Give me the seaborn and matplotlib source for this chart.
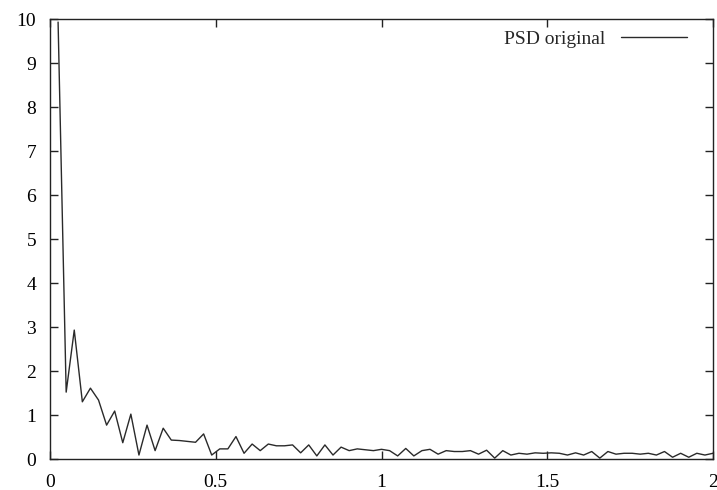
import numpy as np
import pandas as pd
import matplotlib
matplotlib.use("Agg")
import matplotlib.pyplot as plt
import seaborn as sns

# frequency bins (k/41) and PSD values
freq_index = list(range(1, 83))
psd_values = [
    9.93, 1.52, 2.93, 1.30, 1.61, 1.34, 0.77, 1.09, 0.37, 1.02,
    0.09, 0.77, 0.19, 0.70, 0.43, 0.42, 0.40, 0.38, 0.57, 0.09,
    0.23, 0.23, 0.51, 0.13, 0.34, 0.19, 0.34, 0.30, 0.30, 0.32,
    0.14, 0.32, 0.07, 0.32, 0.09, 0.27, 0.19, 0.23, 0.21, 0.19,
    0.22, 0.19, 0.07, 0.24, 0.07, 0.19, 0.22, 0.11, 0.19, 0.17,
    0.17, 0.19, 0.11, 0.20, 0.02, 0.19, 0.09, 0.13, 0.11, 0.14,
    0.13, 0.14, 0.13, 0.09, 0.14, 0.09, 0.17, 0.02, 0.17, 0.11,
    0.13, 0.13, 0.11, 0.13, 0.09, 0.17, 0.04, 0.13, 0.04, 0.13,
    0.09, 0.13,
]
freq = [k / 41 for k in freq_index]
x_ticks = [0, 0.5, 1, 1.5, 2]
x_tick_labels = ["0", "0.5", "1", "1.5", "2"]
y_ticks = list(range(0, 11))
series_label = "PSD original"

df = pd.DataFrame({"f": freq, "psd": psd_values})

sns.set_style("ticks")
plt.rcParams["font.family"] = ["Liberation Serif", "DejaVu Serif"]

fig = plt.figure(figsize=(7.17, 4.90), dpi=100)
ax = fig.add_axes([50 / 717, 31 / 490, 663 / 717, 440 / 490])

sns.lineplot(data=df, x="f", y="psd", ax=ax, color="#2a2a2a", linewidth=1.0,
             label=series_label)

ax.set_xlim(0, 2)
ax.set_ylim(0, 10)
ax.set_xticks(x_ticks)
ax.set_xticklabels(x_tick_labels)
ax.set_yticks(y_ticks)
ax.set_xlabel("")
ax.set_ylabel("")
for s in ax.spines.values():
    s.set_visible(True)
    s.set_linewidth(1.0)
    s.set_color("#222222")
ax.tick_params(axis="both", direction="in", length=6, width=1.0, color="#222222",
               top=True, right=True, labelsize=14, labelcolor="#000000")
ax.tick_params(axis="x", pad=10.5)
ax.tick_params(axis="y", pad=10)

leg = ax.legend(loc="upper right", bbox_to_anchor=(1 - 14 / 663, 1.0),
                frameon=False, markerfirst=False,
                fontsize=14, handlelength=3.4, borderaxespad=0.2,
                handletextpad=0.8)

fig.savefig("out.png", dpi=100)
